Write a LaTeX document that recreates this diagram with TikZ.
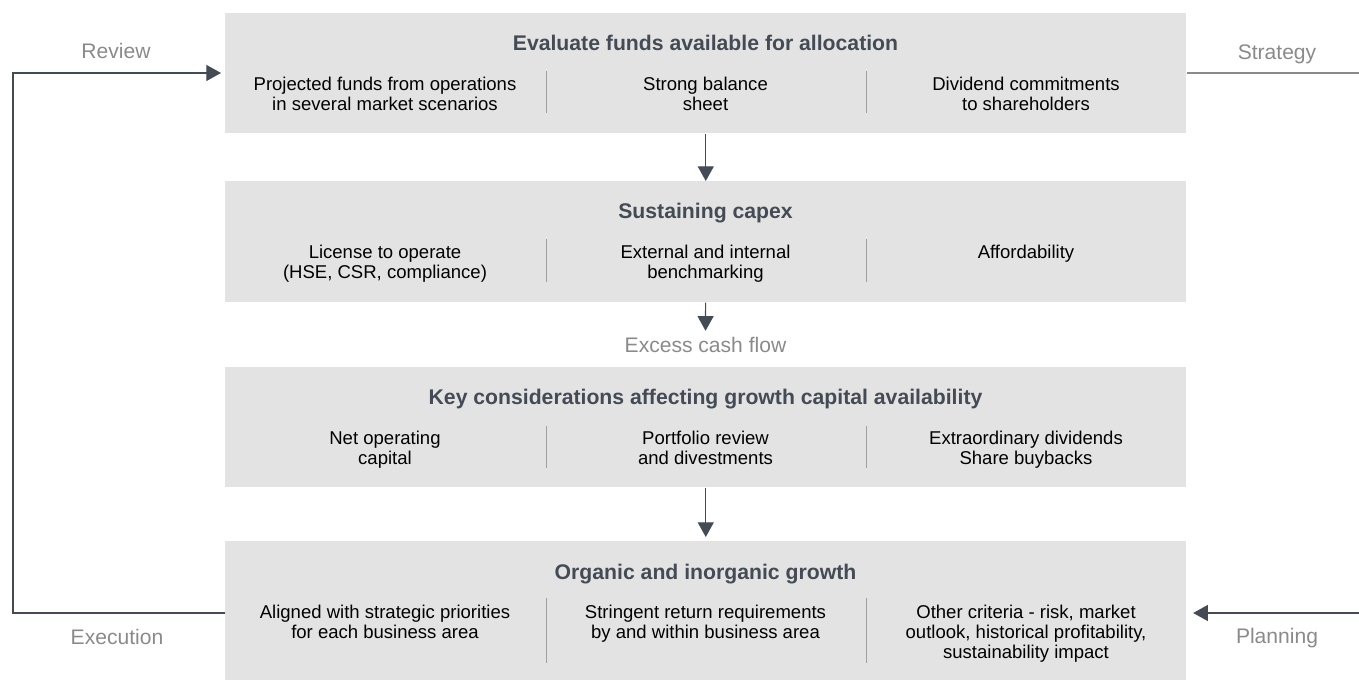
\documentclass[tikz,border=0pt]{standalone}
\usepackage{fontspec}
\setmainfont{Liberation Sans}
\usetikzlibrary{arrows.meta,calc,positioning}
\definecolor{panelgray}{HTML}{E3E3E3}
\definecolor{slate}{HTML}{444B55}
\definecolor{labelgray}{HTML}{8A8A8A}
\definecolor{rulegray}{HTML}{A0A0A0}

\begin{document}
\begin{tikzpicture}[x=0.75pt,y=-0.75pt,
    panel/.style={anchor=north west, fill=panelgray, inner sep=0pt, minimum width=720.75pt},
    heading/.style={anchor=base, inner sep=0pt, text=slate, font=\fontsize{15.9}{19}\selectfont\bfseries},
    item/.style={anchor=north, inner sep=0pt, align=center, font=\fontsize{13.9}{15}\selectfont},
    tag/.style={anchor=base, inner sep=0pt, text=labelgray, font=\fontsize{15.8}{19}\selectfont},
    flow/.style={draw=slate, line width=0.9pt, -{Triangle[length=11pt,width=12pt]}},
    sep/.style={draw=rulegray, line width=0.6pt}]
            \useasboundingbox (0,0) rectangle (1359,680);
            \coordinate (reviewcorner) at (13,73);
            \coordinate (execcorner) at (13,613);
            \coordinate (stratend) at (1359,73);
            \coordinate (planstart) at (1359,613);
            %Panels
            \node[panel, minimum height=90pt] (fund) at (225,13) {};
            \node[panel, minimum height=90.75pt] (capex) at (225,181) {};
            \node[panel, minimum height=90pt] (growthcap) at (225,367) {};
            \node[panel, minimum height=104.25pt] (growth) at (225,541) {};
            %Headings
            \node[heading] (fundhead) at (705.5,51) {Evaluate funds available for allocation};
            \node[heading] (capexhead) at (705.5,219) {Sustaining capex};
            \node[heading] (growthcaphead) at (705.5,405) {Key considerations affecting growth capital availability};
            \node[heading] (growthhead) at (705.5,579) {Organic and inorganic growth};
            %Items
            \node[item] (fund-a) at (385,77) {Projected funds from operations\\in several market scenarios};
            \node[item] (fund-b) at (705.5,77) {Strong balance\\sheet};
            \node[item] (fund-c) at (1026,77) {Dividend commitments\\to shareholders};
            \node[item] (capex-a) at (385,245) {License to operate\\(HSE, CSR, compliance)};
            \node[item] (capex-b) at (705.5,245) {External and internal\\benchmarking};
            \node[item] (capex-c) at (1026,245) {Affordability};
            \node[item] (growthcap-a) at (385,431) {Net operating\\capital};
            \node[item] (growthcap-b) at (705.5,431) {Portfolio review\\and divestments};
            \node[item] (growthcap-c) at (1026,431) {Extraordinary dividends\\Share buybacks};
            \node[item] (growth-a) at (385,605) {Aligned with strategic priorities\\for each business area};
            \node[item] (growth-b) at (705.5,605) {Stringent return requirements\\by and within business area};
            \node[item] (growth-c) at (1026,605) {Other criteria - risk, market\\outlook, historical profitability,\\sustainability impact};
            %Dividers
            \draw[sep] (546,71) -- (546,113);
            \draw[sep] (866,71) -- (866,113);
            \draw[sep] (546,239) -- (546,282);
            \draw[sep] (866,239) -- (866,282);
            \draw[sep] (546,426) -- (546,468);
            \draw[sep] (866,426) -- (866,468);
            \draw[sep] (546,598) -- (546,663);
            \draw[sep] (866,598) -- (866,663);
            %Tags
            \node[tag] (review) at (116,59) {Review};
            \node[tag] (strategy) at (1277,60) {Strategy};
            \node[tag] (execution) at (117,644) {Execution};
            \node[tag] (planning) at (1277,643) {Planning};
            \node[tag] (excess) at (705.5,353) {Excess cash flow};
            %Arrows
            \draw[flow] (fund) -- (capex);
            \draw[flow, shorten >=5pt] (capex) -- (excess);
            \draw[flow, shorten >=3pt] (growthcap) -- (growth);
            \draw[flow, shorten >=3pt] (growth.west |- execcorner) -- (execcorner) -- (reviewcorner) -- (fund.west |- reviewcorner);
            \draw[draw=labelgray, line width=0.9pt] (fund.east |- stratend) -- (stratend);
            \draw[flow, shorten >=5pt] (planstart) -- (growth.east |- planstart);
        \end{tikzpicture}
\end{document}
